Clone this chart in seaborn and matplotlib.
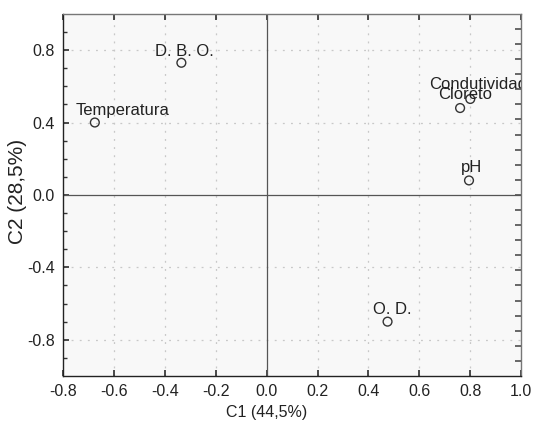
import matplotlib
matplotlib.use("Agg")
import matplotlib.pyplot as plt
import seaborn as sns
import pandas as pd
import numpy as np

labels = ["Temperatura", "D. B. O.", "Condutividade", "Cloreto", "pH", "O. D."]
c1 = [-0.675, -0.335, 0.80, 0.76, 0.795, 0.475]
c2 = [0.40, 0.73, 0.53, 0.48, 0.08, -0.70]
xticks = [-0.8, -0.6, -0.4, -0.2, 0.0, 0.2, 0.4, 0.6, 0.8, 1.0]
yticks = [-0.8, -0.4, 0.0, 0.4, 0.8]
xlabel = "C1 (44,5%)"
ylabel = "C2 (28,5%)"

df = pd.DataFrame({"C1": c1, "C2": c2, "label": labels})

sns.set_theme(style="white")
plt.rcParams["font.family"] = ["Liberation Sans", "DejaVu Sans"]
plt.rcParams["axes.unicode_minus"] = False

fig = plt.figure(figsize=(5.34, 4.21), dpi=100)
ax = fig.add_axes([0.118, 0.107, 0.858, 0.860])
ax.set_facecolor("#f8f8f8")

ax.set_xlim(-0.8, 1.0)
ax.set_ylim(-1.0, 1.0)

# grid
for gx in xticks:
    if gx not in (0.0, -0.8, 1.0):
        ax.axvline(gx, color="#c8c8c8", lw=0.9, ls=(0, (1.5, 5)), zorder=0)
for gy in yticks:
    if gy != 0.0:
        ax.axhline(gy, color="#c8c8c8", lw=0.9, ls=(0, (1.5, 5)), zorder=0)
ax.axvline(0.0, color="#555555", lw=0.9, zorder=1)
ax.axhline(0.0, color="#555555", lw=0.9, zorder=1)

sns.scatterplot(data=df, x="C1", y="C2", ax=ax, marker="o", s=40,
                facecolor="none", edgecolor="#333333", linewidth=1.0, zorder=3)

# label offsets in pixels (left edge relative to point, baseline above point)
offsets = {"Temperatura": (-19, 8), "D. B. O.": (-26, 7), "Condutividade": (-41, 10),
           "Cloreto": (-22, 9), "pH": (-8, 8), "O. D.": (-15, 8)}
for _, r in df.iterrows():
    dx, dy = offsets[r["label"]]
    ax.annotate(r["label"], (r["C1"], r["C2"]), xytext=(dx, dy),
                textcoords="offset pixels", ha="left", va="baseline",
                fontsize=12, color="#222222", annotation_clip=False, clip_on=True)

ax.set_xticks(xticks)
ax.set_xticklabels([f"{v:.1f}" for v in xticks])
ax.set_yticks(yticks)
ax.set_yticklabels([f"{v:.1f}" for v in yticks])
ax.set_yticks(np.arange(-0.9, 1.0, 0.1), minor=True)
ax.tick_params(axis="both", which="major", labelsize=11.5, colors="#333333",
               labelcolor="#222222", length=4, direction="in",
               bottom=True, left=True, top=True, pad=6)
ax.tick_params(axis="y", which="minor", length=3, direction="in", left=True,
               colors="#333333")

# right-side ticks
axr = ax.twinx()
axr.set_ylim(-1.0, 1.0)
axr.set_yticks(np.arange(-11, 12) / 12.0)
axr.tick_params(axis="y", direction="in", length=4, labelright=False, colors="#555555")
axr.grid(False)
for s in axr.spines.values():
    s.set_visible(False)

ax.set_xlabel(xlabel, fontsize=11.5, color="#222222")
ax.set_ylabel(ylabel, fontsize=15, color="#222222")
ax.xaxis.set_label_coords(0.445, -0.080)
ax.yaxis.set_label_coords(-0.079, 0.511)

for s in ["left", "bottom"]:
    ax.spines[s].set_color("#222222")
    ax.spines[s].set_linewidth(1.0)
for s in ["top", "right"]:
    ax.spines[s].set_color("#777777")
    ax.spines[s].set_linewidth(1.0)

fig.savefig("out.png", dpi=100, facecolor="white")
